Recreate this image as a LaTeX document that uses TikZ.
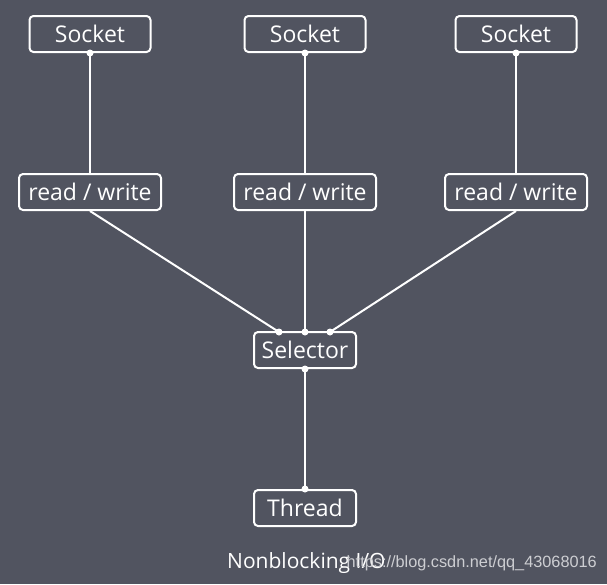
\documentclass[tikz,border=0pt]{standalone}
\usepackage{fontspec}
\setmainfont{Open Sans}
\newfontfamily\markfont{Liberation Sans}
\definecolor{bgslate}{RGB}{81,84,96}
\definecolor{markgray}{RGB}{205,206,210}
\begin{document}
\begin{tikzpicture}[x=1pt,y=-1pt,
		box/.style={draw=white, line width=2pt, rounded corners=4pt, text=white, minimum height=36pt, inner sep=0pt, font=\fontsize{23}{26}\selectfont},
		wire/.style={draw=white, line width=2pt},
		dot/.style={circle, fill=white, minimum size=7pt, inner sep=0pt}]
	\fill[bgslate] (0,0) rectangle (607,584);
	\useasboundingbox (0,0) rectangle (607,584);

	\foreach \i/\x in {1/90,2/305,3/516} {
		\node (sock\i) [box, minimum width=121pt] at (\x,34) {Socket};
		\node (rw\i) [box, minimum width=142pt] at (\x,192) {read / write};
	}
	\node (sel) [box, minimum width=102pt] at (305,350) {Selector};
	\node (thr) [box, minimum width=102pt] at (305,508) {Thread};

	\coordinate (sel1) at (279,332);
	\coordinate (sel2) at (305,332);
	\coordinate (sel3) at (330,332);

	\foreach \i in {1,2,3} {
		\draw[wire] (sock\i.south) -- (rw\i.north);
		\draw[wire] (rw\i.south) -- (sel\i);
		\node[dot] at (sock\i.south) {};
		\node[dot] at (sel\i) {};
	}
	\draw[wire] (sel.south) -- (thr.north);
	\node[dot] at (sel.south) {};
	\node[dot] at (thr.north) {};

	\node (cap) [text=white, anchor=west, inner sep=0pt, font=\fontsize{21}{24}\selectfont] at (227,563) {Nonblocking I/O};
	\node (mark) [text=markgray, anchor=east, inner sep=0pt, font=\markfont\fontsize{16.3}{20}\selectfont] at (597,563) {https://blog.csdn.net/qq\_43068016};
\end{tikzpicture}
\end{document}
